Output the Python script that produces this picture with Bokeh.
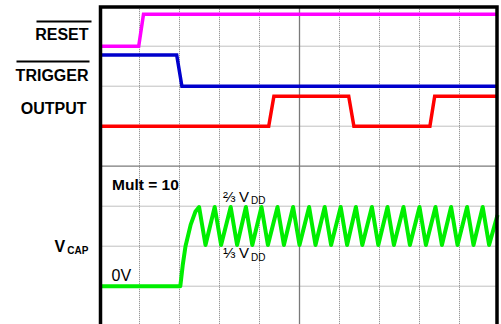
from bokeh.plotting import figure
from bokeh.models import Range1d, Label
from bokeh.embed import file_html
from bokeh.resources import INLINE

# ---- data (time in divisions, level in divisions) ----
reset_t = [0.0, 0.98, 1.1, 9.95]
reset_v = [7.0, 7.0, 7.8, 7.8]

trigger_t = [0.0, 1.93, 2.06, 9.95]
trigger_v = [6.78, 6.78, 6.0, 6.0]

output_t = [0.0, 4.23, 4.36, 6.23, 6.36, 8.26, 8.38, 9.95]
output_v = [5.0, 5.0, 5.75, 5.75, 5.0, 5.0, 5.75, 5.75]

vcap_start_t = [0.0, 2.02, 2.08, 2.15, 2.28, 2.4]
vcap_start_v = [1.0, 1.0, 1.52, 2.0, 2.54, 2.87]
peak_t = [2.49, 2.88, 3.28, 3.66, 4.05, 4.45, 4.84, 5.24, 5.63, 6.03,
          6.41, 6.81, 7.2, 7.6, 8.0, 8.4, 8.79, 9.19, 9.58]
peak_v = [2.98, 2.98, 2.98, 2.98, 2.98, 2.98, 2.98, 2.98, 2.98, 2.98,
          2.98, 2.98, 2.98, 2.98, 2.98, 2.98, 2.98, 2.98, 2.98]
trough_t = [2.65, 3.04, 3.44, 3.82, 4.21, 4.61, 5.0, 5.4, 5.79, 6.19,
            6.57, 6.97, 7.36, 7.76, 8.16, 8.56, 8.95, 9.35, 9.74]
trough_v = [2.03, 2.03, 2.03, 2.03, 2.03, 2.03, 2.03, 2.03, 2.03, 2.03,
            2.03, 2.03, 2.03, 2.03, 2.03, 2.03, 2.03, 2.03, 2.03]
vcap_end_t = [9.95]
vcap_end_v = [2.78]

# screen grid (divisions)
x_grid = [1, 2, 3, 4, 6, 7, 8, 9]
y_grid = [1, 2, 3, 5, 6, 7]
x_center = [5]
y_center = [4]
x_left, x_right = 0.025, 9.9375
y_top, y_bottom = 7.9775, 0.0

# build VCAP trace from the arrays
vcap_t = list(vcap_start_t)
vcap_v = list(vcap_start_v)
for pt, pv, tt, tv in zip(peak_t, peak_v, trough_t, trough_v):
    vcap_t += [pt, tt]
    vcap_v += [pv, tv]
vcap_t += vcap_end_t
vcap_v += vcap_end_v

FONT = "Liberation Sans"

p = figure(width=501, height=324,
           x_range=Range1d(-2.475, 10.05), y_range=Range1d(0.0425, 8.1425),
           output_backend="svg", toolbar_location=None,
           x_axis_location=None, y_axis_location=None,
           min_border_left=0, min_border_right=0,
           min_border_top=0, min_border_bottom=0)
p.outline_line_color = None
p.background_fill_color = "white"
p.border_fill_color = "white"
p.xgrid.visible = False
p.ygrid.visible = False

# dotted graticule
p.segment(x0=x_grid, x1=x_grid, y0=[y_bottom] * len(x_grid), y1=[y_top] * len(x_grid),
          line_color="#808080", line_width=1, line_dash="1 1")
p.segment(x0=[x_left] * len(y_grid), x1=[x_right] * len(y_grid), y0=y_grid, y1=y_grid,
          line_color="#808080", line_width=1, line_dash="1 1")
# solid centre lines
p.segment(x0=x_center, x1=x_center, y0=[y_bottom], y1=[y_top],
          line_color="#7a7a7a", line_width=1.3)
p.segment(x0=[x_left], x1=[x_right], y0=y_center, y1=y_center,
          line_color="#7a7a7a", line_width=1.3)

p.line(reset_t, reset_v, line_color="#ff00ff", line_width=3.5, line_join="miter")
p.line(trigger_t, trigger_v, line_color="#0000cc", line_width=3.5, line_join="miter")
p.line(output_t, output_v, line_color="#ff0000", line_width=3.5, line_join="miter")
p.line(vcap_t, vcap_v, line_color="#00ee00", line_width=4, line_join="round")

# frame border (left, top, right)
p.line([x_left, x_left, x_right, x_right], [y_bottom, y_top, y_top, y_bottom],
       line_color="black", line_width=3.5, line_join="miter")


def lab(x, y, text, size, bold=False, align="left"):
    px = float(size.replace("px", ""))
    p.add_layout(Label(x=x, y=y, text=text, text_font=FONT,
                       text_font_size=size,
                       text_font_style="bold" if bold else "normal",
                       text_align=align, text_baseline="alphabetic",
                       y_offset=round(0.44 * px, 1),
                       text_color="black"))


# left-side signal names
lab(-0.275, 7.1175, "RESET", "16px", True, "right")
lab(-0.275, 6.1, "TRIGGER", "16px", True, "right")
lab(-0.325, 5.2675, "OUTPUT", "16px", True, "right")
lab(-1.125, 1.825, "V", "16px", True)
lab(-0.8075, 1.785, "CAP", "10px", True)

# overlines for active-low signals
p.segment(x0=[-1.575, -2.075], x1=[-0.2, -0.25], y0=[7.6175, 6.6175], y1=[7.6175, 6.6175],
          line_color="black", line_width=2)

# in-plot annotations
lab(0.3125, 3.3675, "Mult = 10", "15.5px", True)
lab(0.3, 1.1, "0V", "16px")
lab(3.0875, 3.08, "⅔", "15px")
lab(3.4875, 3.08, "V", "15px")
lab(3.7875, 3.03, "DD", "10px")
lab(3.0875, 1.6675, "⅓", "15px")
lab(3.4875, 1.6675, "V", "15px")
lab(3.7875, 1.6175, "DD", "10px")

open("out.html", "w").write(file_html(p, INLINE))
